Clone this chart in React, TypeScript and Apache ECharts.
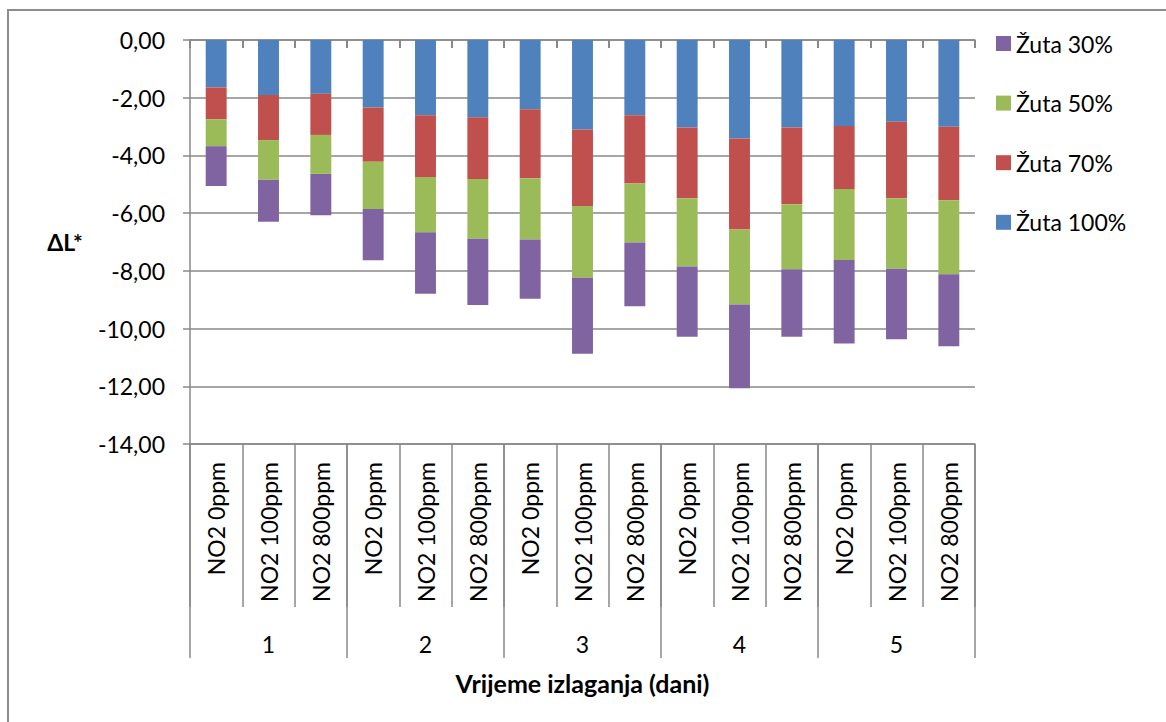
import React, { useEffect, useRef } from "react";
import * as echarts from "echarts";

const days = ["1", "2", "3", "4", "5"];
const concentrations = ["NO2 0ppm", "NO2 100ppm", "NO2 800ppm"];
const categories = days.flatMap(() => concentrations);

const seriesNames = ["Žuta 100%", "Žuta 70%", "Žuta 50%", "Žuta 30%"];
const legendOrder = ["Žuta 30%", "Žuta 50%", "Žuta 70%", "Žuta 100%"];
const seriesColors = ["#4F81BD", "#C0504D", "#9BBB59", "#8064A2"];

const zuta100 = [-1.64, -1.91, -1.86, -2.34, -2.61, -2.68, -2.40, -3.10, -2.61, -3.03, -3.41, -3.03, -2.98, -2.83, -3.01];
const zuta70 = [-1.11, -1.56, -1.43, -1.88, -2.14, -2.14, -2.39, -2.65, -2.36, -2.45, -3.16, -2.66, -2.18, -2.65, -2.54];
const zuta50 = [-0.93, -1.37, -1.35, -1.64, -1.91, -2.07, -2.12, -2.49, -2.05, -2.37, -2.60, -2.25, -2.46, -2.45, -2.57];
const zuta30 = [-1.38, -1.46, -1.43, -1.77, -2.13, -2.29, -2.06, -2.63, -2.21, -2.43, -2.90, -2.34, -2.90, -2.44, -2.49];
const seriesValues = [zuta100, zuta70, zuta50, zuta30];

const yTitle = "ΔL*";
const xTitle = "Vrijeme izlaganja (dani)";

const FONT = "Lato, 'Liberation Sans', sans-serif";
const AXIS = "#888888";

export default function App() {
  const ref = useRef<HTMLDivElement>(null);
  useEffect(() => {
    if (!ref.current) return;
    const chart = echarts.init(ref.current, null, { renderer: "svg" });
    const option: any = {
      animation: false,
      textStyle: { fontFamily: FONT },
      grid: { left: 190, right: 191, top: 40, bottom: 278, containLabel: false },
      legend: {
        data: legendOrder,
        orient: "vertical",
        left: 996,
        top: 32,
        padding: 0,
        itemWidth: 15,
        itemHeight: 15,
        itemGap: 36.6,
        icon: "rect",
        textStyle: { fontSize: 23, lineHeight: 23, color: "#000", fontFamily: FONT },
      },
      xAxis: [
        {
          // main category axis: line and short ticks sit on the zero line, labels stay at the bottom
          type: "category",
          data: categories,
          position: "bottom",
          axisLine: { show: true, onZero: true, onZeroAxisIndex: 0, lineStyle: { color: AXIS, width: 1.5 } },
          axisTick: { show: true, interval: 0, length: 8, lineStyle: { color: AXIS, width: 2 } },
          axisLabel: { interval: 0, rotate: 90, margin: 18, fontSize: 23, color: "#000", fontFamily: FONT },
          splitLine: { show: false },
        },
        {
          // separators between the inner labels
          type: "category",
          data: categories,
          position: "bottom",
          axisLine: { show: true, onZero: false, lineStyle: { color: AXIS, width: 1.5 } },
          axisTick: { show: true, interval: 0, length: 163, lineStyle: { color: AXIS, width: 1.5 } },
          axisLabel: { show: false },
          splitLine: { show: false },
        },
        {
          // outer level: days
          type: "category",
          data: days,
          position: "bottom",
          axisLine: { show: false, onZero: false },
          axisTick: { show: true, interval: 0, length: 214, lineStyle: { color: AXIS, width: 1.5 } },
          axisLabel: { interval: 0, margin: 188, fontSize: 23, color: "#000", fontFamily: FONT },
          splitLine: { show: false },
        },
      ],
      yAxis: {
        type: "value",
        min: -14,
        max: 0,
        interval: 2,
        axisLine: { show: true, onZero: false, lineStyle: { color: AXIS, width: 1.5 } },
        axisTick: { show: true, length: 7, lineStyle: { color: AXIS, width: 1.5 } },
        axisLabel: {
          margin: 25,
          fontSize: 23,
          color: "#000",
          fontFamily: FONT,
          formatter: (v: number) => v.toFixed(2).replace(".", ","),
        },
        splitLine: { show: true, lineStyle: { color: AXIS, width: 1.5 } },
      },
      series: seriesNames.map((name, i) => ({
        name,
        type: "bar",
        stack: "total",
        barWidth: "40%",
        xAxisIndex: 0,
        itemStyle: { color: seriesColors[i] },
        data: seriesValues[i],
      })),
      graphic: [
        {
          type: "rect",
          shape: { x: 8, y: 10, width: 1300, height: 900 },
          style: { fill: "none", stroke: "#8c8c8c", lineWidth: 2 },
          silent: true,
        },
        {
          type: "text",
          x: 65,
          y: 242,
          style: { text: yTitle, font: `bold 23px ${FONT}`, fill: "#000", align: "center", verticalAlign: "middle" },
        },
        {
          type: "text",
          x: 582.5,
          y: 683,
          style: { text: xTitle, font: `bold 25px ${FONT}`, fill: "#000", align: "center", verticalAlign: "middle" },
        },
      ],
    };
    chart.setOption(option);
    return () => chart.dispose();
  }, []);
  return (
    <div
      ref={ref}
      style={{ position: "absolute", left: 0, top: 0, width: 1166, height: 722, background: "#fff" }}
    />
  );
}
